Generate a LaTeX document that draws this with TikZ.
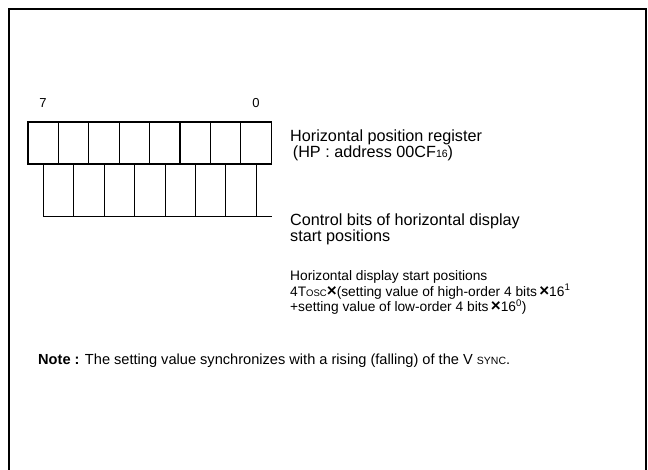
\documentclass[tikz,border=0pt]{standalone}
\usepackage{fontspec}
\setmainfont{Liberation Sans}
\usetikzlibrary{positioning}
\newcommand{\mulx}{{\fontsize{17}{17}\selectfont\bfseries ×}}
\tikzset{
  regbit/.style={draw, line width=1.1pt, minimum width=30.4pt, minimum height=42pt, inner sep=0pt, outer sep=0pt},
  ctl/.style={line width=0.6pt},
  lbl/.style={font=\fontsize{16.2}{15}\selectfont, align=left, anchor=base west, inner sep=0pt},
  sml/.style={font=\fontsize{13.75}{14.5}\selectfont, align=left, anchor=base west, inner sep=0pt},
  num/.style={font=\fontsize{13}{13}\selectfont, anchor=base, inner sep=0pt},
}

\begin{document}
\begin{tikzpicture}[x=1pt,y=-1pt]
\useasboundingbox (0,0) rectangle (648,470);
% outer frame, open at the bottom
\draw[line width=1.3pt] (9,475) -- (9,9) -- (646,9) -- (646,475);
% register bits
\foreach \i in {0,...,7}
  \node[regbit] (b\i) at ({43.2+30.4*(7-\i)},143) {};
\node[num] (msb) at (43,108) {7};
\node[num] (lsb) at (256,108) {0};
% control bit lines
\coordinate (cend) at (272,216);
\foreach \i in {0,...,7}
  \draw[ctl] (b\i.south) -- (b\i.south |- cend);
\draw[ctl] (b7.south |- cend) -- (cend);
\node[lbl] (hpreg) at (290,158) {Horizontal position register\\\,(HP : address 00CF{\fontsize{10.5}{10}\selectfont 16})};
\node[lbl] (ctlbits) at (290,242) {Control bits of horizontal display\\start positions};
\node[sml] (hdsp) at (290,312) {Horizontal display start positions\\4T{\fontsize{9.5}{10}\selectfont OSC}\mulx(setting value of high-order 4 bits\,\mulx16\textsuperscript{1}\\+setting value of low-order 4 bits\,\mulx16\textsuperscript{0})};
\node[lbl, font=\fontsize{14.6}{15}\selectfont] (note) at (38,364) {\textbf{Note :} The setting value synchronizes with a rising (falling) of the V {\fontsize{10.5}{10}\selectfont SYNC}.};
\end{tikzpicture}
\end{document}
